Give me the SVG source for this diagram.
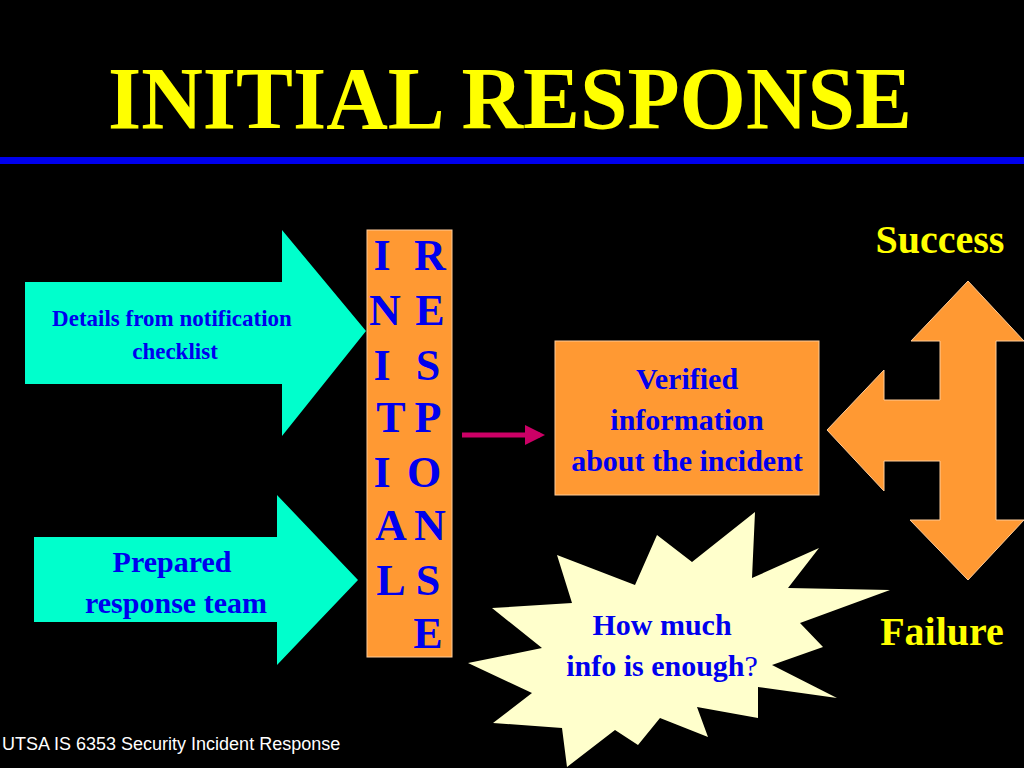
<svg xmlns="http://www.w3.org/2000/svg" width="1024" height="768" viewBox="0 0 1024 768">
<style>
.b{font-family:"Liberation Serif","Times New Roman",serif;font-weight:bold;fill:#0000ee;text-anchor:middle}
.y{font-family:"Liberation Serif","Times New Roman",serif;font-weight:bold;fill:#ffff00}
.l{font-size:44px}
</style>
<defs><marker id="mh" markerWidth="4" markerHeight="4" refX="3" refY="2" orient="auto"><path d="M0,0L4,2L0,4z" fill="#cc0066"/></marker></defs>
<rect width="1024" height="768" fill="#000"/>
<text class="y" x="510" y="128" font-size="88" text-anchor="middle" textLength="804" lengthAdjust="spacingAndGlyphs">INITIAL RESPONSE</text>
<rect x="0" y="157" width="1024" height="7" fill="#0000ee"/>
<g id="details"><path d="M25,282H282V230L366,331L282,436V384H25Z" fill="#00ffcc"/>
<text class="b" font-size="23"><tspan x="172" y="326">Details from notification</tspan><tspan x="175" y="359">checklist</tspan></text></g>
<g id="team"><path d="M34,537H277V495L358,580L277,665V622H34Z" fill="#00ffcc"/>
<text class="b" font-size="30"><tspan x="172" y="572">Prepared</tspan><tspan x="176" y="613">response team</tspan></text></g>
<g id="column"><rect x="367" y="230" width="85" height="427" fill="#ff9933" stroke="#ffcc99" stroke-width="1"/>
<g class="b l"><text x="382" y="270">I</text><text x="385" y="325">N</text><text x="382" y="380">I</text><text x="391" y="432">T</text><text x="382" y="487">I</text><text x="391" y="540">A</text><text x="391" y="595">L</text>
<text x="430" y="270">R</text><text x="430" y="325">E</text><text x="428" y="380">S</text><text x="428" y="432">P</text><text x="424" y="487">O</text><text x="430" y="540">N</text><text x="428" y="595">S</text><text x="428" y="648">E</text></g></g>
<g id="connectors"><line x1="462" y1="435" x2="540" y2="435" stroke="#cc0066" stroke-width="5" marker-end="url(#mh)"/></g>
<g id="verified"><rect x="555" y="341" width="264" height="154" fill="#ff9933" stroke="#ffcc99" stroke-width="1"/>
<text class="b" font-size="30"><tspan x="687" y="389">Verified</tspan><tspan x="687" y="430">information</tspan><tspan x="687" y="471">about the incident</tspan></text></g>
<g id="dblarrow"><path d="M968,281L1024,341H996V520H1024L968,580L910,520H940V461H884V491L827,430L884,370V400H940V341H911Z" fill="#ff9933" stroke="#ffcc99" stroke-width="1"/></g>
<g id="star"><path d="M755,512L752,578L819,548L788,588L890,590L800,623L823,647L772,665L837,698L758,687L758,718L697,707L708,737L660,718L638,745L615,730L567,767L562,728L493,723L532,693L468,663L542,648L492,608L572,603L557,555L635,585L657,535L692,562Z" fill="#ffffcc"/>
<text class="b" font-size="30"><tspan x="662" y="635">How much</tspan><tspan x="662" y="676">info is enough<tspan style="font-weight:normal">?</tspan></tspan></text></g>
<text class="y" x="940" y="253" font-size="40" text-anchor="middle">Success</text>
<text class="y" x="942" y="645" font-size="40" text-anchor="middle">Failure</text>
<text x="2" y="750" font-family="Liberation Sans,Arial,sans-serif" font-size="18" fill="#fff">UTSA IS 6353 Security Incident Response</text>
</svg>
